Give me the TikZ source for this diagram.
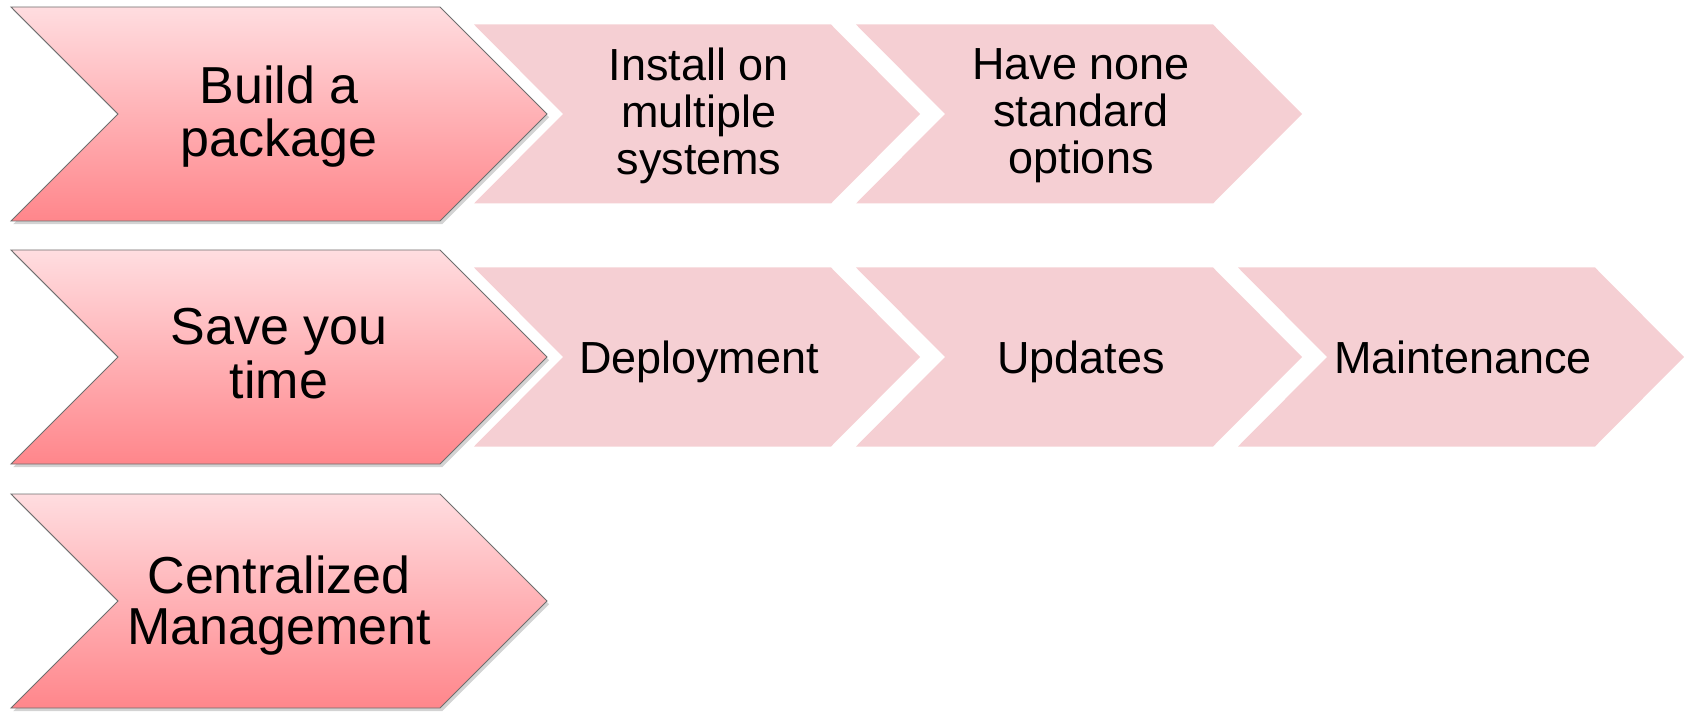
\documentclass[tikz,border=0pt]{standalone}
\usepackage{fontspec}
\setmainfont{Liberation Sans}
\usepackage{tikz}
\usetikzlibrary{shadows}
\definecolor{chevtop}{RGB}{255,221,224}
\definecolor{chevbot}{RGB}{255,134,139}
\definecolor{chevpale}{RGB}{245,207,211}
\definecolor{chevedge}{RGB}{110,110,110}

\begin{document}
\begin{tikzpicture}[
  x=0.02cm, y=0.02cm,
  mainarrow/.style={draw=chevedge, line width=0.5pt, top color=chevtop, bottom color=chevbot,
    drop shadow={shadow xshift=1.2pt, shadow yshift=-1.8pt, opacity=0.35}},
  subarrow/.style={fill=chevpale},
  maintext/.style={align=center, text depth=0.21em, font=\fontsize{29.6}{30.7}\selectfont},
  subtext/.style={align=center, text depth=0.21em, font=\fontsize{25.6}{26.7}\selectfont}
]

\useasboundingbox (0,0) rectangle (1684,711);

% Sub chevrons
\foreach \cx/\cy in {697/597, 1079/597, 697/354, 1079/354, 1461/354} {
  \fill[subarrow] ({\cx-223},{\cy+89.5}) -- ({\cx+134},{\cy+89.5}) -- ({\cx+223},\cy)
    -- ({\cx+134},{\cy-89.5}) -- ({\cx-223},{\cy-89.5}) -- ({\cx-134},\cy) -- cycle;
}

% Main chevrons
\foreach \cy in {597, 354, 110} {
  \draw[mainarrow] (11,{\cy+107}) -- (440,{\cy+107}) -- (547,\cy)
    -- (440,{\cy-107}) -- (11,{\cy-107}) -- (118,\cy) -- cycle;
}

% Labels
\node[maintext] (build) at (279,598) {Build a\\package};
\node[maintext] (save) at (279,356) {Save you\\time};
\node[maintext, font=\fontsize{29.6}{29.4}\selectfont] (central) at (279,109) {Centralized\\Management};
\node[subtext] (install) at (699,598) {Install on\\multiple\\systems};
\node[subtext] (nonstd) at (1081,598) {Have none\\standard\\options};
\node[subtext] (deploy) at (699,352) {Deployment};
\node[subtext] (updates) at (1081,352) {Updates};
\node[subtext] (maint) at (1463,352) {Maintenance};

\end{tikzpicture}
\end{document}
